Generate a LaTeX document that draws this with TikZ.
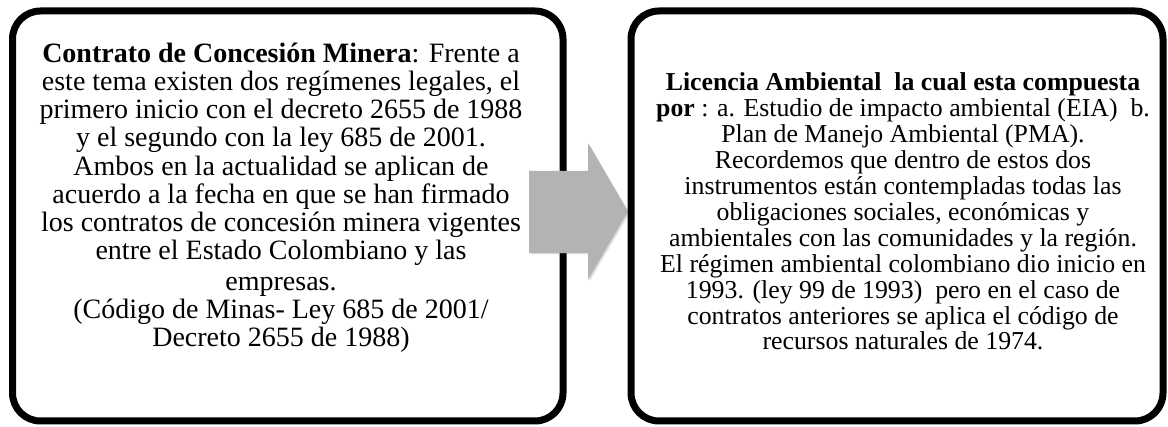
\documentclass[tikz,border=0pt]{standalone}
\usepackage{fontspec}
\setmainfont{Liberation Serif}
\usetikzlibrary{shadows}
\definecolor{arrowgray}{RGB}{179,179,179}
\tikzset{
  panel/.style={draw=black, line width=7pt, rounded corners=28pt, fill=white,
    drop shadow={shadow xshift=2pt, shadow yshift=-2pt, opacity=0.35, fill=black!60}},
  paneltext/.style={align=center, inner sep=0pt, anchor=base, font=\fontsize{28}{28.2}\selectfont},
  paneltextR/.style={align=center, inner sep=0pt, anchor=base, font=\fontsize{25.8}{25.9}\selectfont},
  bigarrow/.style={fill=arrowgray, draw=none,
    drop shadow={shadow xshift=1.5pt, shadow yshift=-1.5pt, opacity=0.25, fill=black!50}}
}
\begin{document}
\begin{tikzpicture}[x=1pt, y=-1pt]
\useasboundingbox (0,0) rectangle (1168,427);
% left panel
\draw[panel] (12.5,11) rectangle (563,421);
% arrow
\coordinate (a1) at (529,171);
\coordinate (a2) at (588,171);
\coordinate (a3) at (588,143);
\coordinate (a4) at (628,211.5);
\coordinate (a5) at (588,280);
\coordinate (a6) at (588,253);
\coordinate (a7) at (529,253);
\fill[bigarrow] (a1) -- (a2) -- (a3) -- (a4) -- (a5) -- (a6) -- (a7) -- cycle;
% right panel
\draw[panel] (631,11) rectangle (1163,421);
% texts
\node[paneltext] (lt) at (281,347) {\textbf{Contrato de Concesión Minera}: Frente a\\
este tema existen dos regímenes legales, el\\
primero inicio con el decreto 2655 de 1988\\
y el segundo con la ley 685 de 2001.\\
Ambos en la actualidad se aplican de\\
acuerdo a la fecha en que se han firmado\\
los contratos de concesión minera vigentes\\
entre el Estado Colombiano y las\\[2.6pt]
empresas.\\
(Código de Minas- Ley 685 de 2001/\\
Decreto 2655 de 1988)};
\node[paneltextR] (rt) at (903,350) {\textbf{Licencia Ambiental\ \ la cual esta compuesta}\\
\textbf{por} : a. Estudio de impacto ambiental (EIA)\ \ b.\\
Plan de Manejo Ambiental (PMA).\\
Recordemos que dentro de estos dos\\
instrumentos están contempladas todas las\\
obligaciones sociales, económicas y\\
ambientales con las comunidades y la región.\\
El régimen ambiental colombiano dio inicio en\\
1993. (ley 99 de 1993)\ \ pero en el caso de\\
contratos anteriores se aplica el código de\\
recursos naturales de 1974.};
\end{tikzpicture}
\end{document}
